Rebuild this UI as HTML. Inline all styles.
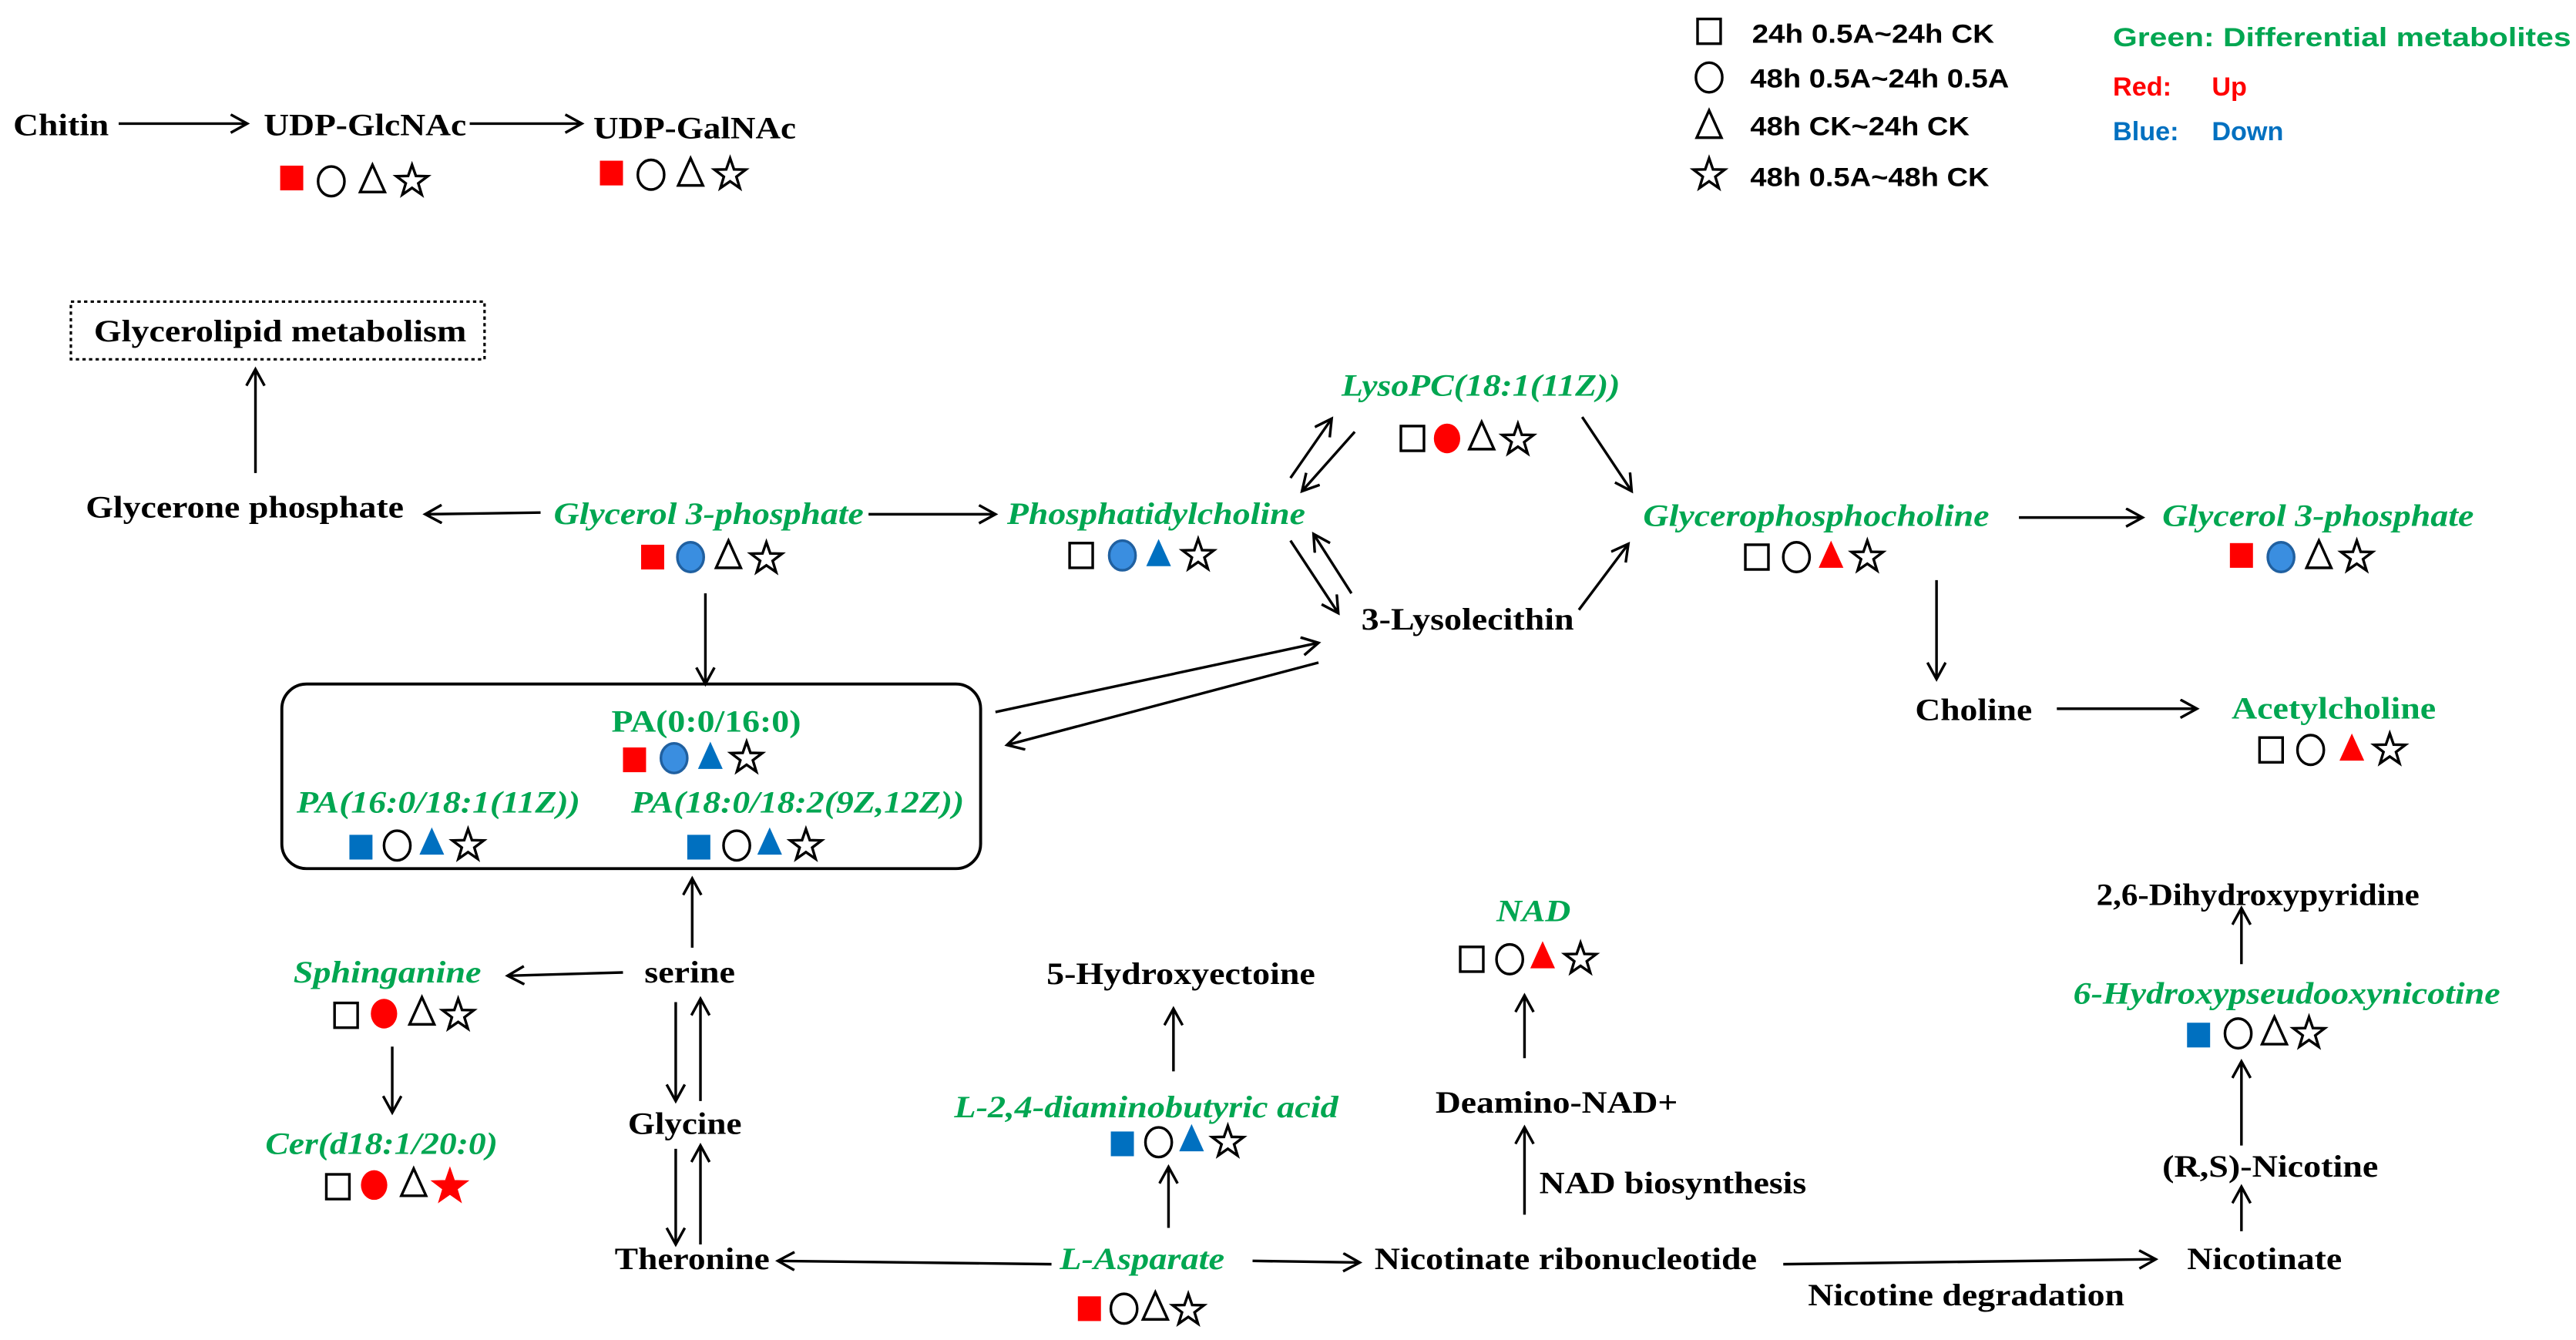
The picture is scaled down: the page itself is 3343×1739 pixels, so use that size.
<!DOCTYPE html>
<html><head><meta charset="utf-8"><style>
html,body{margin:0;padding:0;background:#fff;}
svg{display:block;}
text{font-family:"Liberation Serif",serif;font-weight:bold;font-size:19px;fill:#000;}
.g{fill:#00a651;font-style:italic;}
.gu{fill:#00a651;}
.lg{font-family:"Liberation Sans",sans-serif;font-size:16px;}
</style></head><body>
<svg width="3343" height="1739" viewBox="0 0 1563 813" preserveAspectRatio="none" xmlns="http://www.w3.org/2000/svg">
<defs>
<marker id="a" markerWidth="14" markerHeight="14" refX="11" refY="6" orient="auto" markerUnits="userSpaceOnUse">
<path d="M1,0.5 L11,6 L1,11.5" fill="none" stroke="#000" stroke-width="1.6"/></marker>
<rect id="sq" x="-7" y="-7.5" width="14" height="15" stroke-width="1.6"/>
<ellipse id="ci" cx="0" cy="0" rx="8" ry="9" stroke-width="1.6"/>
<path id="tr" d="M0,-9 L7.5,7.5 L-7.5,7.5 Z" stroke-width="1.6"/>
<path id="st" d="M0,-10 L2.35,-3.24 L9.51,-3.09 L3.8,1.24 L5.88,8.09 L0,4 L-5.88,8.09 L-3.8,1.24 L-9.51,-3.09 L-2.35,-3.24Z" stroke-width="1.6"/>
</defs>
<g stroke="#000" stroke-width="1.6" fill="none" marker-end="url(#a)">
<line x1="72" y1="75" x2="150" y2="75"/>
<line x1="285" y1="75" x2="353" y2="75"/>
<line x1="155" y1="287" x2="155" y2="224"/>
<line x1="328" y1="311" x2="258" y2="312"/>
<line x1="527" y1="312" x2="604" y2="312"/>
<line x1="428" y1="360" x2="428" y2="415"/>
<line x1="604" y1="432" x2="800" y2="390"/>
<line x1="800" y1="402" x2="611" y2="452"/>
<line x1="783" y1="290" x2="808" y2="254"/>
<line x1="822" y1="262" x2="790" y2="298"/>
<line x1="783" y1="328" x2="812" y2="372"/>
<line x1="820" y1="360" x2="797" y2="324"/>
<line x1="960" y1="253" x2="990" y2="298"/>
<line x1="958" y1="370" x2="988" y2="330"/>
<line x1="1225" y1="314" x2="1300" y2="314"/>
<line x1="1175" y1="352" x2="1175" y2="412"/>
<line x1="1248" y1="430" x2="1333" y2="430"/>
<line x1="420" y1="575" x2="420" y2="533"/>
<line x1="378" y1="590" x2="308" y2="592"/>
<line x1="238" y1="635" x2="238" y2="675"/>
<line x1="410" y1="608" x2="410" y2="668"/>
<line x1="425" y1="668" x2="425" y2="606"/>
<line x1="410" y1="697" x2="410" y2="755"/>
<line x1="425" y1="755" x2="425" y2="695"/>
<line x1="638" y1="767" x2="472" y2="765"/>
<line x1="709" y1="745" x2="709" y2="708"/>
<line x1="712" y1="650" x2="712" y2="612"/>
<line x1="760" y1="765" x2="825" y2="766"/>
<line x1="925" y1="737" x2="925" y2="684"/>
<line x1="925" y1="642" x2="925" y2="604"/>
<line x1="1082" y1="767" x2="1308" y2="764"/>
<line x1="1360" y1="747" x2="1360" y2="720"/>
<line x1="1360" y1="695" x2="1360" y2="644"/>
<line x1="1360" y1="585" x2="1360" y2="551"/>
</g>
<rect x="43" y="183" width="251" height="35" fill="none" stroke="#000" stroke-width="1.5" stroke-dasharray="2,2"/>
<rect x="171" y="415" width="424" height="112" rx="15" fill="none" stroke="#000" stroke-width="1.8"/>

<text x="8" y="82" textLength="58" lengthAdjust="spacingAndGlyphs">Chitin</text>
<text x="160" y="82" textLength="123" lengthAdjust="spacingAndGlyphs">UDP-GlcNAc</text>
<text x="360" y="84" textLength="123" lengthAdjust="spacingAndGlyphs">UDP-GalNAc</text>
<text x="57" y="207" textLength="226" lengthAdjust="spacingAndGlyphs">Glycerolipid metabolism</text>
<text x="52" y="314" textLength="193" lengthAdjust="spacingAndGlyphs">Glycerone phosphate</text>
<text class="g" x="336" y="318" textLength="188" lengthAdjust="spacingAndGlyphs">Glycerol 3-phosphate</text>
<text class="g" x="611" y="318" textLength="181" lengthAdjust="spacingAndGlyphs">Phosphatidylcholine</text>
<text class="g" x="814" y="240" textLength="169" lengthAdjust="spacingAndGlyphs">LysoPC(18:1(11Z))</text>
<text x="826" y="382" textLength="129" lengthAdjust="spacingAndGlyphs">3-Lysolecithin</text>
<text class="g" x="997" y="319" textLength="210" lengthAdjust="spacingAndGlyphs">Glycerophosphocholine</text>
<text class="g" x="1312" y="319" textLength="189" lengthAdjust="spacingAndGlyphs">Glycerol 3-phosphate</text>
<text x="1162" y="437" textLength="71" lengthAdjust="spacingAndGlyphs">Choline</text>
<text class="gu" x="1354" y="436" textLength="124" lengthAdjust="spacingAndGlyphs">Acetylcholine</text>
<text class="gu" x="371" y="444" textLength="115" lengthAdjust="spacingAndGlyphs">PA(0:0/16:0)</text>
<text class="g" x="180" y="493" textLength="172" lengthAdjust="spacingAndGlyphs">PA(16:0/18:1(11Z))</text>
<text class="g" x="383" y="493" textLength="202" lengthAdjust="spacingAndGlyphs">PA(18:0/18:2(9Z,12Z))</text>
<text x="391" y="596" textLength="55" lengthAdjust="spacingAndGlyphs">serine</text>
<text class="g" x="178" y="596" textLength="114" lengthAdjust="spacingAndGlyphs">Sphinganine</text>
<text class="g" x="161" y="700" textLength="141" lengthAdjust="spacingAndGlyphs">Cer(d18:1/20:0)</text>
<text x="381" y="688" textLength="69" lengthAdjust="spacingAndGlyphs">Glycine</text>
<text x="373" y="770" textLength="94" lengthAdjust="spacingAndGlyphs">Theronine</text>
<text class="g" x="643" y="770" textLength="100" lengthAdjust="spacingAndGlyphs">L-Asparate</text>
<text class="g" x="579" y="678" textLength="233" lengthAdjust="spacingAndGlyphs">L-2,4-diaminobutyric acid</text>
<text x="635" y="597" textLength="163" lengthAdjust="spacingAndGlyphs">5-Hydroxyectoine</text>
<text x="834" y="770" textLength="232" lengthAdjust="spacingAndGlyphs">Nicotinate ribonucleotide</text>
<text x="934" y="724" textLength="162" lengthAdjust="spacingAndGlyphs">NAD biosynthesis</text>
<text x="871" y="675" textLength="147" lengthAdjust="spacingAndGlyphs">Deamino-NAD+</text>
<text class="g" x="908" y="559" textLength="45" lengthAdjust="spacingAndGlyphs">NAD</text>
<text x="1097" y="792" textLength="192" lengthAdjust="spacingAndGlyphs">Nicotine degradation</text>
<text x="1327" y="770" textLength="94" lengthAdjust="spacingAndGlyphs">Nicotinate</text>
<text x="1312" y="714" textLength="131" lengthAdjust="spacingAndGlyphs">(R,S)-Nicotine</text>
<text class="g" x="1258" y="609" textLength="259" lengthAdjust="spacingAndGlyphs">6-Hydroxypseudooxynicotine</text>
<text x="1272" y="549" textLength="196" lengthAdjust="spacingAndGlyphs">2,6-Dihydroxypyridine</text>

<!-- legend -->
<g stroke="#000" fill="none">
<use href="#sq" x="1037" y="19" transform="translate(0,0)"/>
<use href="#ci" x="1037" y="47"/>
<use href="#tr" x="1037" y="76"/>
<use href="#st" x="1037" y="106"/>
</g>
<text class="lg" x="1063" y="26" textLength="147" lengthAdjust="spacingAndGlyphs">24h 0.5A~24h CK</text>
<text class="lg" x="1062" y="53" textLength="157" lengthAdjust="spacingAndGlyphs">48h 0.5A~24h 0.5A</text>
<text class="lg" x="1062" y="82" textLength="133" lengthAdjust="spacingAndGlyphs">48h CK~24h CK</text>
<text class="lg" x="1062" y="113" textLength="145" lengthAdjust="spacingAndGlyphs">48h 0.5A~48h CK</text>
<text class="lg" x="1282" y="28" textLength="278" lengthAdjust="spacingAndGlyphs" style="fill:#00a651">Green: Differential metabolites</text>
<text class="lg" x="1282" y="58" style="fill:#ff0000">Red:</text>
<text class="lg" x="1342" y="58" style="fill:#ff0000">Up</text>
<text class="lg" x="1282" y="85" style="fill:#0070c0">Blue:</text>
<text class="lg" x="1342" y="85" style="fill:#0070c0">Down</text>

<!-- symbols -->
<g stroke="#000">
<!-- UDP-GlcNAc -->
<use href="#sq" x="177" y="108" fill="#ff0000" stroke="none"/><use href="#ci" x="201" y="110" fill="none"/><use href="#tr" x="226" y="109" fill="none"/><use href="#st" x="250" y="110" fill="none"/>
<!-- UDP-GalNAc -->
<use href="#sq" x="371" y="105" fill="#ff0000" stroke="none"/><use href="#ci" x="395" y="106" fill="none"/><use href="#tr" x="419" y="105" fill="none"/><use href="#st" x="443" y="106" fill="none"/>
<!-- Glycerol 3-phosphate L -->
<use href="#sq" x="396" y="338" fill="#ff0000" stroke="none"/><use href="#ci" x="419" y="338" fill="#3a8ee0" stroke="#2060a0"/><use href="#tr" x="442" y="337" fill="none"/><use href="#st" x="465" y="339" fill="none"/>
<!-- Phosphatidylcholine -->
<use href="#sq" x="656" y="337" fill="none"/><use href="#ci" x="681" y="337" fill="#3a8ee0" stroke="#2060a0"/><use href="#tr" x="703" y="336" fill="#0070c0" stroke="none"/><use href="#st" x="727" y="337" fill="none"/>
<!-- LysoPC -->
<use href="#sq" x="857" y="266" fill="none"/><use href="#ci" x="878" y="266" fill="#ff0000" stroke="none"/><use href="#tr" x="899" y="265" fill="none"/><use href="#st" x="921" y="267" fill="none"/>
<!-- Glycerophosphocholine -->
<use href="#sq" x="1066" y="338" fill="none"/><use href="#ci" x="1090" y="338" fill="none"/><use href="#tr" x="1111" y="337" fill="#ff0000" stroke="none"/><use href="#st" x="1133" y="338" fill="none"/>
<!-- Glycerol 3-phosphate R -->
<use href="#sq" x="1360" y="337" fill="#ff0000" stroke="none"/><use href="#ci" x="1384" y="338" fill="#3a8ee0" stroke="#2060a0"/><use href="#tr" x="1407" y="337" fill="none"/><use href="#st" x="1430" y="338" fill="none"/>
<!-- Acetylcholine -->
<use href="#sq" x="1378" y="455" fill="none"/><use href="#ci" x="1402" y="455" fill="none"/><use href="#tr" x="1427" y="454" fill="#ff0000" stroke="none"/><use href="#st" x="1450" y="455" fill="none"/>
<!-- PA(0:0/16:0) -->
<use href="#sq" x="385" y="461" fill="#ff0000" stroke="none"/><use href="#ci" x="409" y="460" fill="#3a8ee0" stroke="#2060a0"/><use href="#tr" x="431" y="459" fill="#0070c0" stroke="none"/><use href="#st" x="453" y="460" fill="none"/>
<!-- PA(16:0...) -->
<use href="#sq" x="219" y="514" fill="#0070c0" stroke="none"/><use href="#ci" x="241" y="513" fill="none"/><use href="#tr" x="262" y="511" fill="#0070c0" stroke="none"/><use href="#st" x="284" y="513" fill="none"/>
<!-- PA(18:0...) -->
<use href="#sq" x="424" y="514" fill="#0070c0" stroke="none"/><use href="#ci" x="447" y="513" fill="none"/><use href="#tr" x="467" y="511" fill="#0070c0" stroke="none"/><use href="#st" x="489" y="513" fill="none"/>
<!-- Sphinganine -->
<use href="#sq" x="210" y="616" fill="none"/><use href="#ci" x="233" y="615" fill="#ff0000" stroke="none"/><use href="#tr" x="256" y="614" fill="none"/><use href="#st" x="278" y="616" fill="none"/>
<!-- Cer -->
<use href="#sq" x="205" y="720" fill="none"/><use href="#ci" x="227" y="719" fill="#ff0000" stroke="none"/><use href="#tr" x="251" y="718" fill="none"/><use href="#st" x="273" y="720" fill="#ff0000" stroke="#ff0000"/>
<!-- L-2,4 -->
<use href="#sq" x="681" y="694" fill="#0070c0" stroke="none"/><use href="#ci" x="703" y="693" fill="none"/><use href="#tr" x="723" y="691" fill="#0070c0" stroke="none"/><use href="#st" x="745" y="693" fill="none"/>
<!-- L-Asparate -->
<use href="#sq" x="661" y="794" fill="#ff0000" stroke="none"/><use href="#ci" x="682" y="794" fill="none"/><use href="#tr" x="701" y="793" fill="none"/><use href="#st" x="721" y="795" fill="none"/>
<!-- NAD -->
<use href="#sq" x="893" y="582" fill="none"/><use href="#ci" x="916" y="582" fill="none"/><use href="#tr" x="936" y="580" fill="#ff0000" stroke="none"/><use href="#st" x="959" y="582" fill="none"/>
<!-- 6-Hydroxy -->
<use href="#sq" x="1334" y="628" fill="#0070c0" stroke="none"/><use href="#ci" x="1358" y="627" fill="none"/><use href="#tr" x="1380" y="626" fill="none"/><use href="#st" x="1401" y="627" fill="none"/>
</g>
</svg>
</body></html>
